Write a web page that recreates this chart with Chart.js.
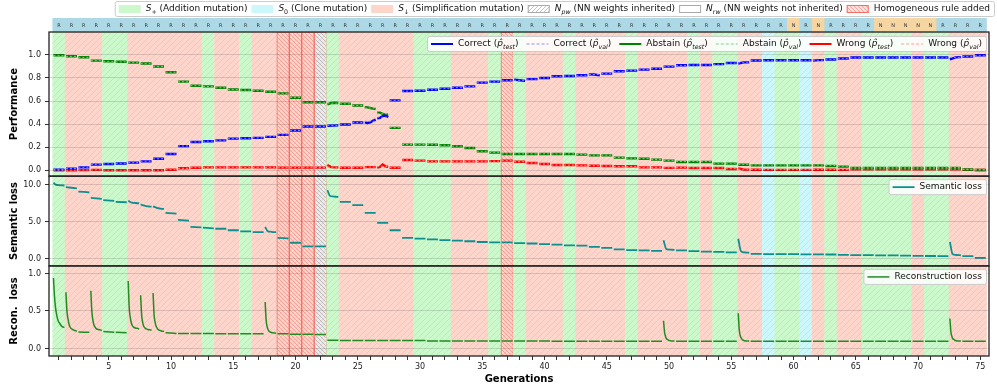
<!DOCTYPE html>
<html>
<head>
<meta charset="utf-8">
<script src="https://cdn.jsdelivr.net/npm/chart.js@4.4.0/dist/chart.umd.min.js"></script>
<style>
  html, body { margin: 0; padding: 0; background: #fff; }
</style>
</head>
<body>
<canvas id="c" width="997" height="392"></canvas>
<script>
// generations and what happened in each one
const generations = Array.from({length: 75}, (_, i) => i + 1);
// A = addition (S+), C = clone (S0), S = simplification (S down)
const mutation = ('ASSSAASSSS' + 'SSASSASSSS' + 'SCASSSSSSA' + 'AASSSASASS' +
                  'SASSSSASSS' + 'SASAASSCAA' + 'CSASSAAAAS' + 'AASSS').split('');
const homogeneousGens = [19, 20, 21, 22, 37];
// top strip labels
const weightTags = ('RRRRRRRRRR'.repeat(5) + 'RRRRRRRRRN' + 'RNRRRRNNNN' + 'NRRRR').split('');

// performance, one entry per generation (number = flat, array = values along the generation)
const correctTest = [
  0.006, 0.015, 0.026, 0.05, 0.055, 0.06, 0.067, 0.078, 0.1, 0.142,
  0.21, 0.246, 0.252, 0.26, 0.275, 0.278, 0.281, 0.29, 0.307, 0.345,
  0.38, 0.38, [0.386, 0.39], 0.397, 0.414, [0.415, 0.41, 0.415, 0.43, 0.44], [0.45, 0.455, 0.47, 0.475, 0.46], 0.606, 0.687, 0.69,
  0.698, 0.707, 0.716, 0.727, 0.76, 0.768, 0.78, [0.786, 0.78, 0.775], 0.79, 0.8,
  0.815, 0.817, 0.823, [0.831, 0.83, 0.822], 0.838, 0.858, 0.864, 0.872, 0.88, 0.898,
  0.91, 0.913, 0.913, 0.92, 0.93, [0.925, 0.935, 0.935], 0.951, 0.954, 0.954, 0.954,
  0.954, [0.95, 0.955, 0.955], 0.96, 0.968, 0.977, 0.977, 0.977, 0.977, 0.977, 0.977,
  0.977, 0.977, [0.962, 0.978, 0.981], 0.986, 0.997
];
const correctVal = [
  0.007, 0.016, 0.027, 0.05, 0.056, 0.061, 0.067, 0.079, 0.1, 0.142,
  0.211, 0.246, 0.253, 0.261, 0.275, 0.279, 0.282, 0.291, 0.307, 0.345,
  0.381, 0.381, 0.389, 0.398, 0.414, 0.425, 0.46, 0.606, 0.686, 0.69,
  0.698, 0.707, 0.716, 0.727, 0.759, 0.767, 0.78, 0.78, 0.79, 0.8,
  0.815, 0.817, 0.823, 0.83, 0.838, 0.857, 0.864, 0.872, 0.88, 0.898,
  0.909, 0.912, 0.912, 0.919, 0.929, 0.932, 0.95, 0.953, 0.953, 0.953,
  0.953, 0.954, 0.959, 0.967, 0.975, 0.975, 0.975, 0.975, 0.975, 0.975,
  0.975, 0.975, 0.978, 0.985, 0.996
];
const abstainTest = [
  0.997, 0.988, 0.98, 0.95, 0.945, 0.94, 0.933, 0.925, 0.9, 0.85,
  0.768, 0.733, 0.727, 0.716, 0.7, 0.696, 0.69, 0.681, 0.667, 0.629,
  0.59, 0.59, [0.572, 0.583, 0.585, 0.583], 0.577, 0.562, [0.548, 0.545, 0.54, 0.535, 0.532], [0.5, 0.5, 0.49, 0.48, 0.485], 0.368, 0.223, 0.223,
  0.222, 0.217, 0.209, 0.194, 0.165, 0.154, 0.142, 0.142, 0.142, 0.142,
  0.142, 0.142, 0.136, 0.13, 0.13, 0.11, 0.104, 0.1, 0.093, 0.084,
  0.072, 0.072, 0.072, 0.058, 0.058, 0.049, 0.043, 0.043, 0.043, 0.043,
  0.043, 0.043, 0.038, 0.032, 0.022, 0.022, 0.022, 0.022, 0.022, 0.022,
  0.022, 0.022, 0.02, 0.008, 0.003
];
const abstainVal = [
  0.996, 0.987, 0.979, 0.95, 0.944, 0.939, 0.932, 0.924, 0.9, 0.85,
  0.767, 0.733, 0.726, 0.715, 0.7, 0.695, 0.69, 0.68, 0.667, 0.63,
  0.59, 0.59, 0.582, 0.576, 0.562, 0.54, 0.49, 0.37, 0.224, 0.224,
  0.222, 0.218, 0.21, 0.195, 0.166, 0.155, 0.143, 0.143, 0.143, 0.143,
  0.143, 0.143, 0.137, 0.131, 0.131, 0.111, 0.105, 0.101, 0.094, 0.085,
  0.076, 0.076, 0.076, 0.062, 0.062, 0.052, 0.046, 0.046, 0.046, 0.046,
  0.046, 0.046, 0.041, 0.036, 0.027, 0.027, 0.027, 0.027, 0.027, 0.027,
  0.027, 0.027, 0.024, 0.01, 0.004
];
const wrongTest = [
  0.001, 0.001, 0.002, 0.004, 0.001, 0.001, 0.001, 0.001, 0.001, 0.005,
  0.018, 0.023, 0.026, 0.026, 0.026, 0.026, 0.026, 0.026, 0.024, 0.024,
  0.024, 0.024, [0.046, 0.028, 0.026, 0.026], 0.023, 0.023, 0.028, [0.025, 0.03, 0.05, 0.035, 0.03], 0.023, 0.09, 0.084,
  0.078, 0.078, 0.078, 0.078, 0.078, 0.08, 0.084, 0.075, 0.064, 0.055,
  0.046, 0.046, 0.043, 0.04, 0.038, 0.035, 0.035, 0.026, 0.026, 0.022,
  0.024, 0.02, 0.02, 0.02, 0.012, [0.017, 0.008, 0.006], 0.005, 0.004, 0.004, 0.004,
  0.004, 0.005, 0.005, 0.004, 0.01, 0.01, 0.01, 0.01, 0.01, 0.01,
  0.01, 0.01, 0.01, 0.006, 0.003
];
const wrongVal = [
  0.001, 0.001, 0.002, 0.004, 0.001, 0.001, 0.001, 0.001, 0.001, 0.005,
  0.018, 0.023, 0.026, 0.026, 0.026, 0.026, 0.026, 0.026, 0.024, 0.024,
  0.024, 0.024, 0.027, 0.023, 0.023, 0.028, 0.035, 0.023, 0.09, 0.084,
  0.078, 0.078, 0.078, 0.078, 0.078, 0.08, 0.084, 0.075, 0.064, 0.055,
  0.046, 0.046, 0.043, 0.04, 0.038, 0.035, 0.035, 0.026, 0.026, 0.022,
  0.026, 0.022, 0.022, 0.022, 0.014, 0.01, 0.007, 0.006, 0.006, 0.006,
  0.006, 0.007, 0.007, 0.006, 0.013, 0.013, 0.013, 0.013, 0.013, 0.013,
  0.013, 0.013, 0.012, 0.008, 0.004
];

// losses
const semanticLoss = [
  [10.3, 10.0, 9.97, 9.95, 9.93], [9.7, 9.55], [9.1, 9.0], [8.25, 8.1], [7.95, 7.85], [7.7, 7.65], [7.85, 7.6, 7.55, 7.5], [7.35, 7.2, 7.1, 7.05], [7.1, 6.9, 6.8, 6.75], [6.2, 6.1],
  [5.25, 5.15], [4.3, 4.25], [4.2, 4.1], 4.05, 3.85, 3.7, 3.6, [4.3, 3.7, 3.65, 3.6, 3.6], [2.8, 2.75], 2.15,
  1.65, 1.65, [9.3, 8.5, 8.45, 8.4, 8.38], 7.7, 7.25, 6.2, 4.85, 3.85, 2.8, 2.7,
  2.6, 2.5, 2.45, 2.35, 2.25, 2.2, 2.2, 2.1, 2.05, 1.95,
  1.9, 1.8, 1.75, 1.6, 1.45, 1.25, 1.15, 1.1, 1.05, [2.5, 1.3, 1.22, 1.2, 1.18],
  1.1, 1.0, 0.95, 0.9, 0.85, [2.7, 1.0, 0.85, 0.82, 0.8], 0.65, 0.6, 0.6, 0.6,
  0.58, 0.58, 0.55, 0.5, 0.48, 0.46, 0.44, 0.42, 0.4, 0.37,
  0.35, 0.33, [2.25, 0.6, 0.5, 0.47, 0.45], 0.32, 0.1
];
const reconLoss = [
  [0.94, 0.7, 0.55, 0.46, 0.4, 0.36, 0.34, 0.32, 0.3, 0.29, 0.285, 0.28],
  [0.75, 0.5, 0.4, 0.33, 0.29, 0.27, 0.26, 0.25, 0.245, 0.24, 0.235, 0.23],
  [0.22, 0.215],
  [0.77, 0.5, 0.38, 0.32, 0.29, 0.27, 0.26, 0.255, 0.25, 0.25, 0.245, 0.24],
  [0.225, 0.215],
  [0.215, 0.21],
  [0.9, 0.55, 0.42, 0.35, 0.31, 0.29, 0.28, 0.275, 0.27, 0.27, 0.265, 0.26],
  [0.71, 0.45, 0.35, 0.3, 0.28, 0.265, 0.26, 0.255, 0.25, 0.25, 0.245, 0.245],
  [0.74, 0.45, 0.35, 0.3, 0.27, 0.255, 0.245, 0.24, 0.235, 0.23, 0.23, 0.225],
  [0.21, 0.2],
  0.2, 0.2, 0.2, 0.195, 0.195, 0.195, 0.195,
  [0.62, 0.38, 0.29, 0.25, 0.23, 0.22, 0.215, 0.21, 0.21, 0.205, 0.205, 0.2],
  0.195, 0.19, 0.19, 0.185,
  0.11, 0.105, 0.105, 0.105, 0.105, 0.105, 0.105, 0.105,
  0.1, 0.1, 0.1, 0.1, 0.1, 0.1, 0.1, 0.1, 0.1, 0.1,
  0.098, 0.098, 0.098, 0.098, 0.098, 0.098, 0.098, 0.098, 0.098,
  [0.37, 0.22, 0.16, 0.13, 0.12, 0.11, 0.105, 0.102, 0.1, 0.1, 0.1, 0.1],
  0.098, 0.098, 0.098, 0.098, 0.098,
  [0.47, 0.25, 0.17, 0.14, 0.12, 0.11, 0.105, 0.1, 0.1, 0.1, 0.1, 0.1],
  0.098, 0.098, 0.098, 0.098, 0.098, 0.098, 0.098, 0.098,
  0.098, 0.098, 0.098, 0.098, 0.098, 0.098, 0.098, 0.098,
  [0.4, 0.22, 0.16, 0.13, 0.12, 0.11, 0.105, 0.1, 0.1, 0.1, 0.1, 0.1],
  0.098, 0.098
];

// axis ranges
const perfRange = [-0.05, 1.198];
const semRange = [-1, 11.2];
const recRange = [-0.1, 1.1];

const FONT = 'DejaVu Sans';
Chart.defaults.font.family = FONT;
Chart.defaults.color = '#222';

const canvas = document.getElementById('c');
const pctx = canvas.getContext('2d');

// hatch patterns for the background bands
function makePattern(bg, hatches) {
  const n = 12;
  const tile = document.createElement('canvas');
  tile.width = n; tile.height = n;
  const t = tile.getContext('2d');
  if (bg) { t.fillStyle = bg; t.fillRect(0, 0, n, n); }
  hatches.forEach(h => {
    t.strokeStyle = h.color; t.lineWidth = h.width;
    for (let k = -n; k <= 2 * n; k += h.step) {
      t.beginPath();
      if (h.dir > 0) { t.moveTo(k, n); t.lineTo(k + n, 0); }
      else { t.moveTo(k, 0); t.lineTo(k + n, n); }
      t.stroke();
    }
  });
  return pctx.createPattern(tile, 'repeat');
}
const bandColors = { A: '#cbf9cb', C: '#ccf8fc', S: '#fdd5cb' };
const faint = { color: 'rgba(110,110,110,0.14)', width: 0.8, step: 6, dir: 1 };
const redHatch = { color: 'rgba(245,110,100,0.6)', width: 0.9, step: 4, dir: -1 };
const bandPatterns = {};
Object.keys(bandColors).forEach(k => {
  bandPatterns[k] = makePattern(bandColors[k], [faint]);
  bandPatterns[k + 'h'] = makePattern(bandColors[k], [faint, redHatch]);
});
const homogEdge = 'rgba(245,90,80,0.85)';

function isHomog(i) { return homogeneousGens.includes(generations[i]); }
function bandFill(i) {
  if (i === undefined) return bandColors.S;
  return bandPatterns[mutation[i] + (isHomog(i) ? 'h' : '')];
}

// turn per-generation entries into line points, with a break between generations
const HALF = 0.44;
function segPoints(values) {
  const pts = [];
  values.forEach((v, i) => {
    const g = generations[i];
    const arr = Array.isArray(v) ? v : [v, v];
    arr.forEach((y, k) => pts.push({ x: g - HALF + 2 * HALF * k / (arr.length - 1), y }));
    pts.push({ x: g + 0.5, y: null });
  });
  return pts;
}

function bandDataset(axis, range) {
  return {
    type: 'bar', yAxisID: axis, order: 10, grouped: false,
    barPercentage: 1, categoryPercentage: 1, borderSkipped: false,
    data: generations.map(g => ({ x: g, y: range })),
    backgroundColor: c => bandFill(c.dataIndex),
    borderColor: c => (c.dataIndex !== undefined && isHomog(c.dataIndex)) ? homogEdge : 'rgba(0,0,0,0)',
    borderWidth: c => (c.dataIndex !== undefined && isHomog(c.dataIndex)) ? 1 : 0
  };
}

const stripColors = { R: '#add8e6', N: '#f5d6a2' };
const stripDataset = {
  type: 'bar', yAxisID: 'yStrip', order: 10, grouped: false,
  barPercentage: 1, categoryPercentage: 1, borderWidth: 0,
  data: generations.map(g => ({ x: g, y: [0, 1] })),
  backgroundColor: c => stripColors[weightTags[c.dataIndex]] || stripColors.R
};

function lineDs(values, axis, color, width, dash, order, smooth) {
  return {
    type: 'line', yAxisID: axis, data: segPoints(values), order,
    borderColor: color, borderWidth: width, borderDash: dash || [],
    pointRadius: 0, spanGaps: false,
    cubicInterpolationMode: smooth ? 'monotone' : 'default'
  };
}

const colors = {
  correct: '#0000ff', correctVal: 'rgba(140,140,255,0.95)',
  abstain: '#008000', abstainVal: 'rgba(130,205,130,0.95)',
  wrong: '#ff0000', wrongVal: 'rgba(255,150,150,0.95)',
  semantic: '#0e8f8f', recon: '#228b22'
};

const datasets = [
  stripDataset,
  bandDataset('yPerf', perfRange),
  bandDataset('ySem', semRange),
  bandDataset('yRec', recRange),
  lineDs(correctTest, 'yPerf', colors.correct, 2.4, null, 2),
  lineDs(abstainTest, 'yPerf', colors.abstain, 2.4, null, 2),
  lineDs(wrongTest, 'yPerf', colors.wrong, 2.4, null, 2),
  lineDs(correctVal, 'yPerf', colors.correctVal, 1, [2, 2], 1),
  lineDs(abstainVal, 'yPerf', colors.abstainVal, 1, [2, 2], 1),
  lineDs(wrongVal, 'yPerf', colors.wrongVal, 1, [2, 2], 1),
  lineDs(semanticLoss, 'ySem', colors.semantic, 1.8, null, 1, true),
  lineDs(reconLoss, 'yRec', colors.recon, 1.5, null, 1, true)
];

// ---------- legends ----------
function setFont(ctx, size, italic) {
  ctx.font = (italic ? 'italic ' : '') + size + 'px "' + FONT + '"';
}
function richWidth(ctx, parts, size) {
  let w = 0;
  parts.forEach(p => { setFont(ctx, p.sub ? size * 0.7 : size, p.i); w += ctx.measureText(p.t).width; });
  return w;
}
function drawRich(ctx, parts, x, y, size) {
  ctx.textBaseline = 'middle'; ctx.textAlign = 'left';
  parts.forEach(p => {
    const s = p.sub ? size * 0.7 : size;
    setFont(ctx, s, p.i);
    ctx.fillText(p.t, x, y + (p.sub ? size * 0.32 : 0));
    x += ctx.measureText(p.t).width;
  });
}
function patchHandle(fill, edge) {
  return (ctx, x, cy, w) => {
    ctx.fillStyle = fill; ctx.fillRect(x, cy - 4, w, 8);
    if (edge) { ctx.strokeStyle = edge; ctx.lineWidth = 1; ctx.strokeRect(x + 0.5, cy - 3.5, w - 1, 7); }
  };
}
function lineHandle(color, width, dash) {
  return (ctx, x, cy, w) => {
    ctx.strokeStyle = color; ctx.lineWidth = width; ctx.setLineDash(dash || []);
    ctx.beginPath(); ctx.moveTo(x, cy); ctx.lineTo(x + w, cy); ctx.stroke();
    ctx.setLineDash([]);
  };
}
function drawLegend(ctx, items, right, top, size, gapI) {
  const handle = 22, gapT = 5, pad = 4, h = 15;
  const widths = items.map(it => richWidth(ctx, it.text, size));
  const total = pad * 2 + widths.reduce((a, w) => a + handle + gapT + w, 0) + gapI * (items.length - 1);
  const left = right - total;
  ctx.save();
  ctx.fillStyle = 'rgba(255,255,255,0.85)';
  ctx.strokeStyle = '#cccccc'; ctx.lineWidth = 1;
  ctx.beginPath();
  if (ctx.roundRect) ctx.roundRect(left + 0.5, top + 0.5, total, h, 2); else ctx.rect(left + 0.5, top + 0.5, total, h);
  ctx.fill(); ctx.stroke();
  let x = left + pad;
  const cy = top + h / 2 + 0.5;
  items.forEach((it, i) => {
    it.handle(ctx, x, cy, handle);
    x += handle + gapT;
    ctx.fillStyle = '#111';
    drawRich(ctx, it.text, x, cy, size);
    x += widths[i] + gapI;
  });
  ctx.restore();
}

const pHat = 'p\u0302';
const topLegend = [
  { handle: patchHandle(bandColors.A), text: [{ t: 'S', i: 1 }, { t: '+', sub: 1 }, { t: ' (Addition mutation)' }] },
  { handle: patchHandle(bandColors.C), text: [{ t: 'S', i: 1 }, { t: '0', sub: 1 }, { t: ' (Clone mutation)' }] },
  { handle: patchHandle(bandColors.S), text: [{ t: 'S', i: 1 }, { t: '\u2193', sub: 1 }, { t: ' (Simplification mutation)' }] },
  { handle: patchHandle(makePattern('#ffffff', [{ color: 'rgba(120,120,120,0.55)', width: 0.8, step: 4, dir: 1 }]), '#aaaaaa'),
    text: [{ t: 'N', i: 1 }, { t: 'pw', sub: 1, i: 1 }, { t: ' (NN weights inherited)' }] },
  { handle: patchHandle('#ffffff', '#aaaaaa'), text: [{ t: 'N', i: 1 }, { t: 'rw', sub: 1, i: 1 }, { t: ' (NN weights not inherited)' }] },
  { handle: patchHandle(makePattern('#fde3df', [redHatch]), homogEdge), text: [{ t: 'Homogeneous rule added' }] }
];
function metric(name, sub) {
  return [{ t: name + ' (' }, { t: pHat, i: 1 }, { t: sub, sub: 1, i: 1 }, { t: ')' }];
}
const perfLegend = [
  { handle: lineHandle(colors.correct, 2), text: metric('Correct', 'test') },
  { handle: lineHandle(colors.correctVal, 1.2, [3, 2]), text: metric('Correct', 'val') },
  { handle: lineHandle(colors.abstain, 2), text: metric('Abstain', 'test') },
  { handle: lineHandle(colors.abstainVal, 1.2, [3, 2]), text: metric('Abstain', 'val') },
  { handle: lineHandle(colors.wrong, 2), text: metric('Wrong', 'test') },
  { handle: lineHandle(colors.wrongVal, 1.2, [3, 2]), text: metric('Wrong', 'val') }
];
const semLegend = [{ handle: lineHandle(colors.semantic, 1.8), text: [{ t: 'Semantic loss' }] }];
const recLegend = [{ handle: lineHandle(colors.recon, 1.5), text: [{ t: 'Reconstruction loss' }] }];

const panelPlugin = {
  id: 'panels',
  afterDatasetsDraw(chart) {
    // labels in the top strip
    const ctx = chart.ctx;
    const meta = chart.getDatasetMeta(0);
    ctx.save();
    ctx.fillStyle = '#333';
    ctx.font = '5px "' + FONT + '"';
    ctx.textAlign = 'center'; ctx.textBaseline = 'middle';
    meta.data.forEach((bar, i) => ctx.fillText(weightTags[i], bar.x, (bar.y + bar.base) / 2 + 0.5));
    ctx.restore();
  },
  afterDraw(chart) {
    const ctx = chart.ctx, a = chart.chartArea;
    ctx.save();
    ctx.strokeStyle = '#222'; ctx.lineWidth = 1.3;
    ['yPerf', 'ySem', 'yRec'].forEach(id => {
      const s = chart.scales[id];
      ctx.strokeRect(a.left, s.top, a.right - a.left, s.bottom - s.top);
    });
    ctx.restore();
    drawLegend(ctx, topLegend, chart.width - 3, 1, 9, 4);
    drawLegend(ctx, perfLegend, a.right - 3, chart.scales.yPerf.top + 4, 9, 8);
    drawLegend(ctx, semLegend, a.right - 3, chart.scales.ySem.top + 3, 9, 8);
    drawLegend(ctx, recLegend, a.right - 3, chart.scales.yRec.top + 3, 9, 8);
  }
};

function yAxis(range, step, weight, stackWeight, title) {
  return {
    type: 'linear', position: 'left', stack: 'panels', stackWeight, weight,
    min: range[0], max: range[1],
    grid: { color: 'rgba(0,0,0,0.13)', tickColor: '#333', tickLength: 4, z: 1 },
    border: { display: false },
    ticks: { stepSize: step, includeBounds: false, padding: 4, font: { size: 8 },
             callback: v => Number(v).toFixed(1) },
    title: { display: true, text: title, font: { size: 10, weight: 'bold' }, color: '#000',
             padding: { top: 8, bottom: 0 } },
    afterFit: s => { s.width = 49; }
  };
}

new Chart(canvas, {
  type: 'line',
  data: { datasets },
  options: {
    responsive: false,
    animation: false,
    devicePixelRatio: 1,
    events: [],
    layout: { padding: { left: 0, right: 8, top: 18, bottom: 0 } },
    plugins: { legend: { display: false }, tooltip: { enabled: false } },
    scales: {
      x: {
        type: 'linear', position: 'bottom', min: 0.2, max: 75.7, offset: false,
        grid: { drawOnChartArea: false, offset: false, tickLength: 4, color: '#333', tickColor: '#333' },
        border: { display: false },
        ticks: { stepSize: 1, maxTicksLimit: 100, includeBounds: false, autoSkip: false, maxRotation: 0,
                 padding: 2, font: { size: 8 }, callback: v => (v % 5 === 0 ? String(v) : '') },
        title: { display: true, text: 'Generations', font: { size: 10, weight: 'bold' }, color: '#000',
                 padding: { top: 0, bottom: 7 } },
        afterFit: s => { s.height = 36; }
      },
      yRec: yAxis(recRange, 0.5, 1, 90, 'Recon.  loss'),
      ySem: yAxis(semRange, 5, 2, 89.7, 'Semantic loss'),
      yPerf: yAxis(perfRange, 0.2, 3, 144, 'Performance'),
      yStrip: {
        type: 'linear', position: 'left', stack: 'panels', stackWeight: 14, weight: 4,
        min: 0, max: 1,
        grid: { display: false }, border: { display: false }, ticks: { display: false }
      }
    }
  },
  plugins: [panelPlugin]
});
</script>
</body>
</html>
